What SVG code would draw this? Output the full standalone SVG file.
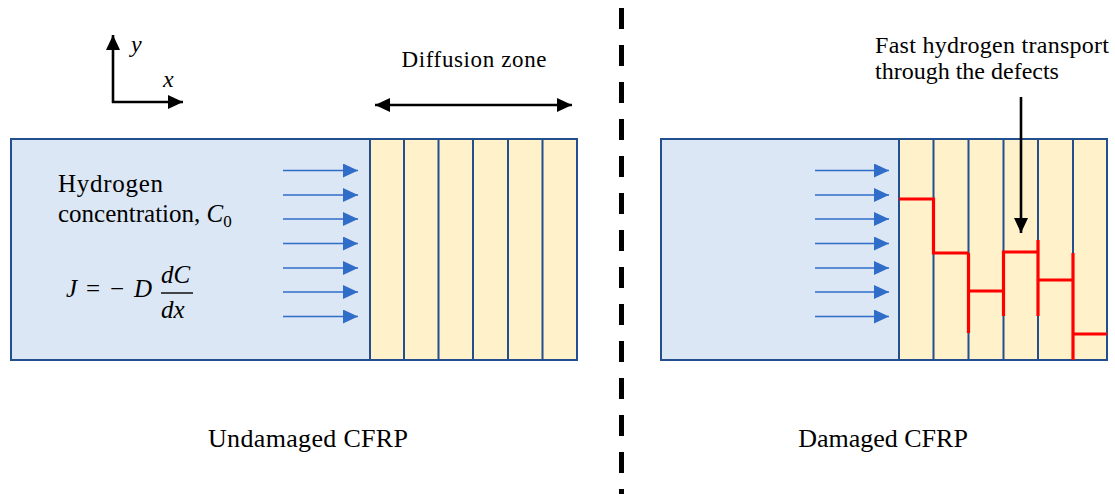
<svg xmlns="http://www.w3.org/2000/svg" width="1115" height="494" viewBox="0 0 1115 494">
<defs>
<style>
.t{font-family:"Liberation Serif","Times New Roman",serif;fill:#000}
.m{font-family:"Liberation Serif","Times New Roman",serif;font-style:italic;fill:#000}
.blue{fill:#DBE7F5;stroke:#234F8E;stroke-width:2}
.yel{fill:#FFF1CA;stroke:#234F8E;stroke-width:2}
.div{stroke:#234F8E;stroke-width:2;fill:none}
.flux{stroke:#2F6DC8;stroke-width:1.4;fill:none;marker-end:url(#fh)}
.red{stroke:#FF0000;stroke-width:3.2;fill:none;stroke-linecap:butt}
.blk{stroke:#000;stroke-width:2.6;fill:none}
</style>
<marker id="fh" viewBox="0 0 15 14" refX="15" refY="7" markerWidth="15" markerHeight="14" markerUnits="userSpaceOnUse" orient="auto"><path d="M0,0 L15,7 L0,14 Z" fill="#2F6DC8"/></marker>
<marker id="bh" viewBox="0 0 15 14" refX="15" refY="7" markerWidth="15" markerHeight="14" markerUnits="userSpaceOnUse" orient="auto-start-reverse"><path d="M0,0 L15,7 L0,14 Z" fill="#000"/></marker>
</defs>

<g id="axes">
<line class="blk" x1="113" y1="103" x2="113" y2="35" marker-end="url(#bh)"/>
<line class="blk" x1="112" y1="102" x2="183" y2="102" marker-end="url(#bh)"/>
<text class="m" x="131" y="52" font-size="24">y</text>
<text class="m" x="163" y="87" font-size="24">x</text>
</g>

<g id="undamaged-panel">
<rect class="blue" x="11" y="139" width="359" height="221"/>
<rect class="yel" x="370" y="139" width="207" height="221"/>
<path class="div" d="M404,139V360M438.5,139V360M473,139V360M508,139V360M542.5,139V360"/>
<text class="t" x="58" y="192" font-size="25" textLength="105">Hydrogen</text>
<text class="t" x="58" y="222" font-size="25">concentration, <tspan class="m">C</tspan><tspan font-size="17" dy="5">0</tspan></text>
<text class="m" x="66" y="297" font-size="25">J</text>
<text class="t" x="86" y="297" font-size="25">=</text>
<text class="t" x="110" y="297" font-size="25">−</text>
<text class="m" x="134" y="297" font-size="25">D</text>
<text class="m" x="161" y="283" font-size="25">dC</text>
<line x1="161" y1="293" x2="193" y2="293" stroke="#000" stroke-width="1.4"/>
<text class="m" x="161" y="318" font-size="25">dx</text>
</g>

<g id="damaged-panel">
<rect class="blue" x="661" y="139" width="238" height="221"/>
<rect class="yel" x="899" y="139" width="208" height="221"/>
<path class="div" d="M933.5,139V360M968.5,139V360M1003.5,139V360M1038,139V360M1073,139V360"/>
<path class="red" d="M899,199H933.5V253H968.5M968.5,253V333M968.5,291H1003.5M1003.5,316V252H1038M1038,240V316M1038,280H1073M1073,253V360M1073,334H1107"/>
</g>

<g id="diffusion-zone">
<text class="t" x="474" y="67" font-size="23" text-anchor="middle" textLength="145">Diffusion zone</text>
</g>

<g id="defect-label">
<text class="t" x="875" y="53" font-size="24" textLength="234">Fast hydrogen transport</text>
<text class="t" x="875" y="79" font-size="24">through the defects</text>
</g>

<g id="captions">
<text class="t" x="308" y="447" font-size="26" text-anchor="middle" textLength="200">Undamaged CFRP</text>
<text class="t" x="883" y="447" font-size="26" text-anchor="middle">Damaged CFRP</text>
</g>

<g id="connectors">
<line class="blk" x1="375" y1="105" x2="572" y2="105" marker-start="url(#bh)" marker-end="url(#bh)"/>
<line class="blk" x1="1021" y1="97" x2="1021" y2="233" marker-end="url(#bh)"/>
<line class="flux" x1="283" y1="170.5" x2="358" y2="170.5"/>
<line class="flux" x1="283" y1="195" x2="358" y2="195"/>
<line class="flux" x1="283" y1="219" x2="358" y2="219"/>
<line class="flux" x1="283" y1="243.5" x2="358" y2="243.5"/>
<line class="flux" x1="283" y1="268" x2="358" y2="268"/>
<line class="flux" x1="283" y1="292" x2="358" y2="292"/>
<line class="flux" x1="283" y1="316.5" x2="358" y2="316.5"/>
<line class="flux" x1="815" y1="170.5" x2="889" y2="170.5"/>
<line class="flux" x1="815" y1="195" x2="889" y2="195"/>
<line class="flux" x1="815" y1="219" x2="889" y2="219"/>
<line class="flux" x1="815" y1="243.5" x2="889" y2="243.5"/>
<line class="flux" x1="815" y1="268" x2="889" y2="268"/>
<line class="flux" x1="815" y1="292" x2="889" y2="292"/>
<line class="flux" x1="815" y1="316.5" x2="889" y2="316.5"/>
<line x1="621.5" y1="8" x2="621.5" y2="494" stroke="#000" stroke-width="5" stroke-dasharray="21 16"/>
</g>
</svg>
